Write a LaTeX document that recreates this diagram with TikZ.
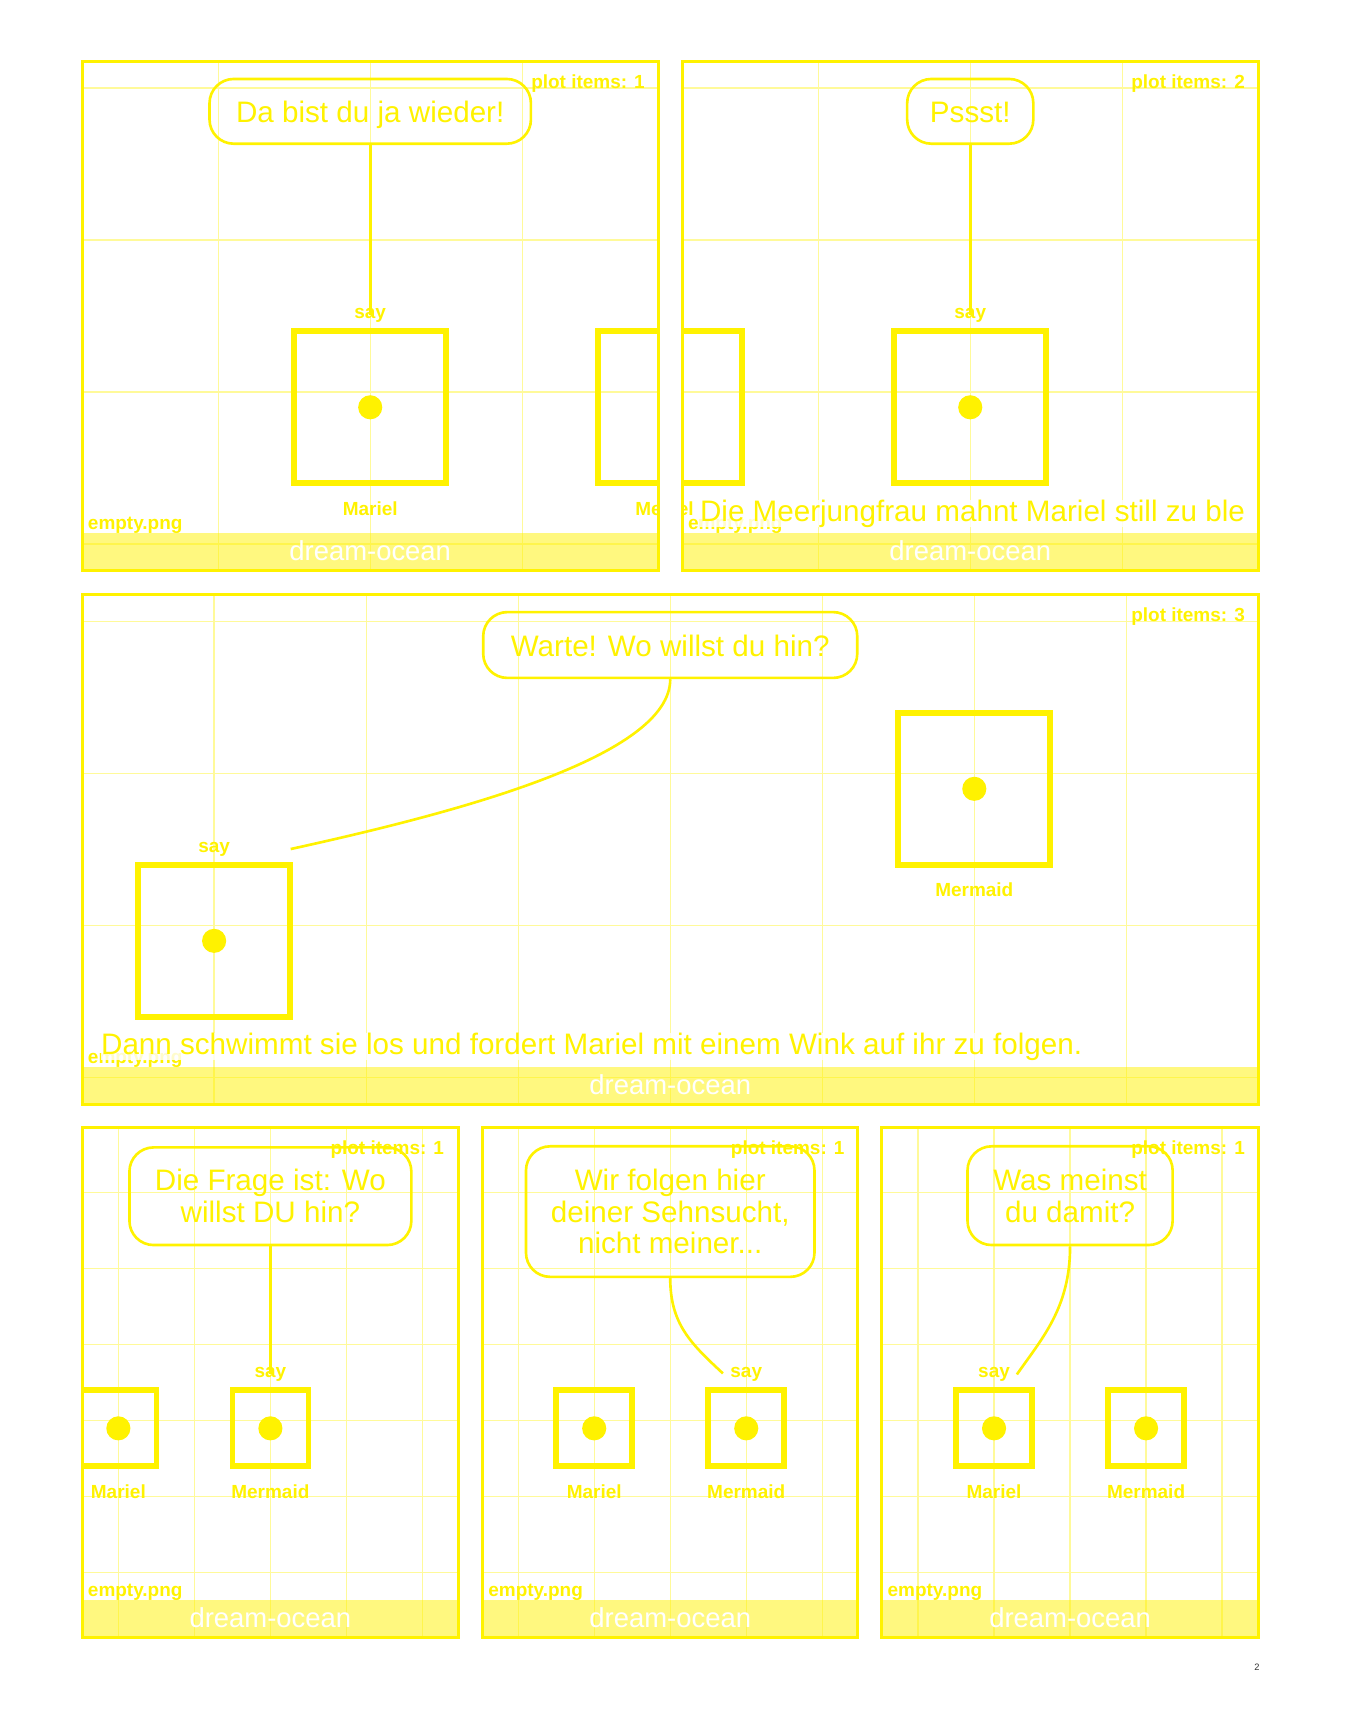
\documentclass[tikz,border=0pt]{standalone}
\usepackage{fontspec}
\setmainfont{Liberation Sans}
\usetikzlibrary{positioning}

\begin{document}
\begin{tikzpicture}[x=1pt,y=1pt,
  panel/.style={draw=yellow, line width=2.8pt},
  gridline/.style={draw=yellow!40, line width=1.2pt},
  band/.style={fill=yellow, fill opacity=0.5},
  actor/.style={draw=yellow, line width=5.2pt, minimum size=138.6pt, inner sep=0pt},
  small actor/.style={actor, minimum size=69.3pt},
  actordot/.style={circle, fill=yellow, minimum size=22pt, inner sep=0pt},
  bubble/.style={draw=yellow, line width=2.4pt, rounded corners=22pt, align=center,
    text=yellow, inner sep=0pt, font=\fontsize{27}{29}\selectfont},
  oneline/.style={bubble, text height=21pt, text depth=0pt},
  talk/.style={draw=yellow, line width=2.4pt},
  lbl/.style={text=yellow, inner sep=0pt, font=\bfseries\fontsize{17.3}{18}\selectfont},
  info/.style={lbl, anchor=base east},
  file/.style={lbl, anchor=base west},
  tell/.style={text=yellow, fill=white, fill opacity=0.8, text opacity=1, inner sep=0pt,
    anchor=base west, font=\fontsize{27}{29}\selectfont},
  placename/.style={text=white, inner sep=0pt, anchor=base, font=\fontsize{25}{27}\selectfont},
  pagenum/.style={text=black!80, inner sep=0pt, font=\fontsize{8.5}{10}\selectfont}]

  \useasboundingbox (0,0) rectangle (1240,-1568);

  \begin{scope}
    \clip (75,-56) rectangle (600,-520);
    \begin{scope}[shift={(337.5,-357.3)}]
      \draw[gridline, step=138.6] (-700,-700) grid (700,700);
    \end{scope}
    \fill[band] (75,-486) rectangle (600,-520);
    \node[actor] (mar1) at (337.5,-371.3) {};
    \node[actor] (mer1) at (614.7,-371.3) {};
    \node[actordot] (mar1d) at (mar1) {};
    \node[lbl, below=13.8pt of mar1] (marl1) {Mariel};
    \node[lbl, below=13.8pt of mer1] (merl1) {Mermaid};
    \node[lbl, above=5.3pt of mar1] (say1) {say};
    \node[oneline, minimum width=293pt, minimum height=59pt] (bub1) at (337.5,-101.5)
      {Da bist du ja wieder!};
    \draw[talk] (bub1.south) -- (say1.center);
    \node[file] (file1) at (80,-482.5) {empty.png};
    \node[info] (info1) at (588,-80.5) {plot items: 1};
    \node[placename] (place1) at (337.5,-511) {dream-ocean};
  \end{scope}
  \draw[panel] (75,-56) rectangle (600,-520);

  \begin{scope}
    \clip (622,-56) rectangle (1147,-520);
    \begin{scope}[shift={(884.5,-357.3)}]
      \draw[gridline, step=138.6] (-700,-700) grid (700,700);
    \end{scope}
    \fill[band] (622,-486) rectangle (1147,-520);
    \node[actor] (mer2) at (884.5,-371.3) {};
    \node[actor] (mar2) at (607.3,-371.3) {};
    \node[actordot] (mer2d) at (mer2) {};
    \node[lbl, below=13.8pt of mar2] (marl2) {Mariel};
    \node[lbl, above=5.3pt of mer2] (say2) {say};
    \node[oneline, minimum width=115pt, minimum height=59pt] (bub2) at (884.5,-101.5)
      {Pssst!};
    \draw[talk] (bub2.south) -- (say2.center);
    \node[file] (file2) at (627,-482.5) {empty.png};
    \node[tell] (tell2) at (638,-475) {Die Meerjungfrau mahnt Mariel still zu ble};
    \node[info] (info2) at (1135,-80.5) {plot items: 2};
    \node[placename] (place2) at (884.5,-511) {dream-ocean};
  \end{scope}
  \draw[panel] (622,-56) rectangle (1147,-520);

  \begin{scope}
    \clip (75,-542) rectangle (1147,-1007);
    \begin{scope}[shift={(611,-843.8)}]
      \draw[gridline, step=138.6] (-700,-700) grid (700,700);
    \end{scope}
    \fill[band] (75,-973) rectangle (1147,-1007);
    \node[actor] (mar3) at (195.2,-857.7) {};
    \node[actor] (mer3) at (888.2,-719.1) {};
    \node[actordot] (mar3d) at (mar3) {};
    \node[actordot] (mer3d) at (mer3) {};
    \node[lbl, below=13.8pt of mer3] (merl3) {Mermaid};
    \node[lbl, above=5.3pt of mar3] (say3) {say};
    \node[oneline, minimum width=341pt, minimum height=60pt] (bub3) at (611,-588)
      {Warte! Wo willst du hin?};
    \coordinate (end3) at (265,-774);
    \draw[talk] (bub3.south) .. controls +(0,-70) and +(155,34) .. (end3);
    \node[file] (file3) at (80,-969.5) {empty.png};
    \node[tell] (tell3) at (92,-961)
      {Dann schwimmt sie los und fordert Mariel mit einem Wink auf ihr zu folgen.};
    \node[info] (info3) at (1135,-566.5) {plot items: 3};
    \node[placename] (place3) at (611,-998) {dream-ocean};
  \end{scope}
  \draw[panel] (75,-542) rectangle (1147,-1007);

  \begin{scope}
    \clip (75,-1028) rectangle (418,-1493);
    \begin{scope}[shift={(246.5,-1295.15)}]
      \draw[gridline, step=69.3] (-700,-700) grid (700,700);
    \end{scope}
    \fill[band] (75,-1459) rectangle (418,-1493);
    \node[small actor] (mar4) at (107.9,-1302.1) {};
    \node[small actor] (mer4) at (246.5,-1302.1) {};
    \node[actordot] (mar4d) at (mar4) {};
    \node[actordot] (mer4d) at (mer4) {};
    \node[lbl, below=13.9pt of mar4] (marl4) {Mariel};
    \node[lbl, below=13.9pt of mer4] (merl4) {Mermaid};
    \node[lbl, above=5.3pt of mer4] (say4) {say};
    \node[bubble, minimum width=257pt, minimum height=89pt] (bub4) at (246.5,-1090.5)
      {Die Frage ist: Wo\\willst DU hin?};
    \draw[talk] (bub4.south) -- (say4.center);
    \node[file] (file4) at (80,-1455.5) {empty.png};
    \node[info] (info4) at (405,-1052.5) {plot items: 1};
    \node[placename] (place4) at (246.5,-1484) {dream-ocean};
  \end{scope}
  \draw[panel] (75,-1028) rectangle (418,-1493);

  \begin{scope}
    \clip (440,-1028) rectangle (782,-1493);
    \begin{scope}[shift={(611,-1295.15)}]
      \draw[gridline, step=69.3] (-700,-700) grid (700,700);
    \end{scope}
    \fill[band] (440,-1459) rectangle (782,-1493);
    \node[small actor] (mar5) at (541.7,-1302.1) {};
    \node[small actor] (mer5) at (680.3,-1302.1) {};
    \node[actordot] (mar5d) at (mar5) {};
    \node[actordot] (mer5d) at (mer5) {};
    \node[lbl, below=13.9pt of mar5] (marl5) {Mariel};
    \node[lbl, below=13.9pt of mer5] (merl5) {Mermaid};
    \node[lbl, above=5.3pt of mer5] (say5) {say};
    \node[bubble, minimum width=263pt, minimum height=119pt] (bub5) at (611,-1104.5)
      {Wir folgen hier\\deiner Sehnsucht,\\nicht meiner...};
    \coordinate (end5) at (659,-1252);
    \draw[talk] (bub5.south) .. controls +(0,-42) and +(-29,27) .. (end5);
    \node[file] (file5) at (445,-1455.5) {empty.png};
    \node[info] (info5) at (770,-1052.5) {plot items: 1};
    \node[placename] (place5) at (611,-1484) {dream-ocean};
  \end{scope}
  \draw[panel] (440,-1028) rectangle (782,-1493);

  \begin{scope}
    \clip (804,-1028) rectangle (1147,-1493);
    \begin{scope}[shift={(975.5,-1295.15)}]
      \draw[gridline, step=69.3] (-700,-700) grid (700,700);
    \end{scope}
    \fill[band] (804,-1459) rectangle (1147,-1493);
    \node[small actor] (mar6) at (906.2,-1302.1) {};
    \node[small actor] (mer6) at (1044.8,-1302.1) {};
    \node[actordot] (mar6d) at (mar6) {};
    \node[actordot] (mer6d) at (mer6) {};
    \node[lbl, below=13.9pt of mar6] (marl6) {Mariel};
    \node[lbl, below=13.9pt of mer6] (merl6) {Mermaid};
    \node[lbl, above=5.3pt of mar6] (say6) {say};
    \node[bubble, minimum width=187pt, minimum height=90pt] (bub6) at (975.5,-1090)
      {Was meinst\\du damit?};
    \coordinate (end6) at (927,-1253);
    \draw[talk] (bub6.south) .. controls +(0,-56) and +(23,33) .. (end6);
    \node[file] (file6) at (809,-1455.5) {empty.png};
    \node[info] (info6) at (1135,-1052.5) {plot items: 1};
    \node[placename] (place6) at (975.5,-1484) {dream-ocean};
  \end{scope}
  \draw[panel] (804,-1028) rectangle (1147,-1493);

  \node[pagenum] (page) at (1145.8,-1519.6) {2};

\end{tikzpicture}
\end{document}
